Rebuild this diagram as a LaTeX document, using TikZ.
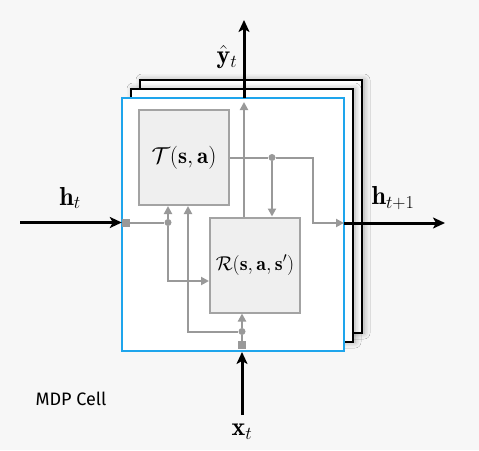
\RequirePackage{fix-cm}
\documentclass[tikz,border=0pt]{standalone}
\usepackage{fontspec}
\newfontfamily\cellfont{Fira Sans}
\usetikzlibrary{arrows.meta,shadows.blur,calc}
\definecolor{bg}{HTML}{F7F7F7}
\definecolor{lgray}{HTML}{999999}
\definecolor{bfill}{HTML}{EFEFEF}
\definecolor{bdraw}{HTML}{A3A3A3}
\definecolor{cellblue}{HTML}{1EA5EC}
\begin{document}
\begin{tikzpicture}[x=1pt,y=-1pt,
  frame/.style={draw=black, line width=1.3pt, fill=white, minimum width=222pt, minimum height=253pt, inner sep=0pt,
    blur shadow={shadow xshift=2pt, shadow yshift=0pt, shadow blur radius=6pt, shadow opacity=35}},
  cellframe/.style={draw=cellblue, line width=2.4pt, fill=white, minimum width=222pt, minimum height=253pt, inner sep=0pt},
  fbox/.style={draw=bdraw, line width=2pt, fill=bfill, minimum width=90pt, minimum height=95pt, inner sep=0pt, font=\fontsize{21}{25}\selectfont},
  gline/.style={draw=lgray, line width=2pt},
  garrow/.style={gline, -{Triangle[length=8pt,width=8pt]}},
  blk/.style={draw=black, line width=3pt, -{Stealth[length=12pt,width=11pt,inset=3pt]}},
  gdot/.style={circle, fill=lgray, minimum size=7pt, inner sep=0pt},
  gsq/.style={rectangle, fill=lgray, minimum size=8pt, inner sep=0pt},
  lbl/.style={font=\fontsize{26}{30}\selectfont, inner sep=0pt}]
\fill[bg] (0,0) rectangle (479,450);
\useasboundingbox (0,0) rectangle (479,450);
% stacked frames
\node[frame] (f3) at (251,206.5) {};
\node[frame] (f2) at (242,215.5) {};
\node[cellframe] (cell) at (233,224.5) {};
% inner boxes
\node[fbox, font=\fontsize{23}{27}\selectfont] (T) at (184,157.5) {$\mathcal{T}(\mathbf{s},\mathbf{a})$};
\node[fbox, font=\fontsize{20}{24}\selectfont] (R) at (255,265) {$\mathcal{R}(\mathbf{s},\mathbf{a},\mathbf{s}')$};
% junctions
\node[gsq] (sqL) at (126,222.5) {};
\node[gdot] (dotL) at (168,222.5) {};
\node[gsq] (sqB) at (242,345) {};
\node[gdot] (dotB) at (242,331.5) {};
\node[gdot] (dotT) at (272,157.5) {};
\coordinate (l1) at (168,281);
\coordinate (b1) at (188,331.5);
\coordinate (c1) at (313,157.5);
\coordinate (c2) at (313,223);
\coordinate (hout) at (344,223);
\coordinate (hend) at (445,223);
\coordinate (hin) at (20,222.5);
\coordinate (yout) at (244,98);
\coordinate (ytip) at (244,20);
\coordinate (xin) at (242,415);
\coordinate (xend) at (242,352);
% gray wiring
\draw[gline] (sqL) -- (dotL);
\draw[garrow] (dotL) -- (dotL |- T.south);
\draw[garrow] (dotL) -- (l1) -- (l1 -| R.west);
\draw[garrow] (dotB) -- (b1) -- (b1 |- T.south);
\draw[gline] (sqB) -- (dotB);
\draw[garrow] (dotB) -- (dotB |- R.south);
\draw[garrow, shorten >=4pt] (yout |- R.north) -- (yout);
\draw[gline] (T.east) -- (dotT);
\draw[garrow] (dotT) -- (dotT |- R.north);
\draw[garrow] (dotT) -- (c1) -- (c2) -- (hout);
% black arrows
\draw[blk] (hin) -- (sqL.west);
\draw[blk] (hout) -- (hend);
\draw[blk] (yout) -- (ytip);
\draw[blk] (xin) -- (xend);
% labels
\node[lbl] (lht) at (70,198) {$\mathbf{h}_t$};
\node[lbl] (lht1) at (393,198) {$\mathbf{h}_{t+1}$};
\node[lbl] (lyt) at (227,57) {$\hat{\mathbf{y}}_t$};
\node[lbl] (lxt) at (242,432) {$\mathbf{x}_t$};
\node[font=\cellfont\fontsize{18}{21}\selectfont, inner sep=0pt] (mdp) at (71,399) {MDP Cell};
\end{tikzpicture}
\end{document}
